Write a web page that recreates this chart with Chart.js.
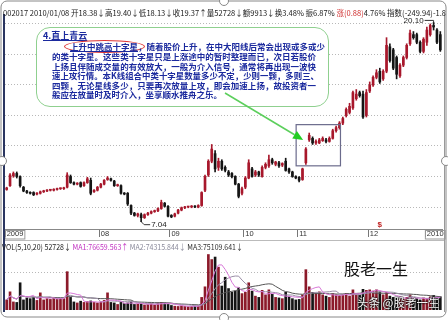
<!DOCTYPE html>
<html>
<head>
<meta charset="utf-8">
<script src="https://cdn.jsdelivr.net/npm/chart.js@4.4.0/dist/chart.umd.min.js"></script>
<style>
  body { margin: 0; background: #fff; }
  #wrap { position: relative; width: 448px; height: 320px; overflow: hidden; background: #fff;
          font-family: "Noto Sans CJK SC", sans-serif; }
  canvas { position: absolute; left: 0; }
  .abs { position: absolute; white-space: nowrap; transform-origin: left center; }
  .note { font-weight: bold; font-size: 8.5px; line-height: 10px; color: #1b2a9e; }
</style>
</head>
<body>
<div id="wrap">
  <canvas id="price" width="448" height="240" style="top:0;width:448px;height:240px"></canvas>
  <canvas id="vol" width="448" height="62" style="top:250px;width:448px;height:62px"></canvas>

  <div class="abs" style="left:3px;top:14px;width:2px;height:298px;background:#2a3560"></div>
  <div class="abs" style="left:444px;top:14px;width:1px;height:298px;background:#999"></div>
  <div class="abs" style="left:5px;top:240px;width:439px;height:1px;background:#bbb"></div>

  <div class="abs" data-w="443" style="left:3px;top:8px;font-size:8px;line-height:10px;color:#222">002017 2010/01/08 开18.38↓高19.40↓低18.13↓收19.37↑量52728↓额9913↓换3.48% 振6.87% <span style="color:#d03030">涨(0.88)</span>4.76% 指数(-249.94)-1.8</div>

  <div class="abs" data-w="241" style="left:2px;top:242px;font-size:8px;line-height:10px;color:#222">VOL(5,10,20) 52728↓ <span style="color:#c030c0">MA1:76659.563↑</span> <span style="color:#8c8c9c">MA2:74315.844↓</span> <span style="color:#303030">MA3:75109.641↓</span></div>

  <div class="abs" style="left:36px;top:27px;width:291px;height:78px;border:1.5px solid #8fd08f;border-radius:14px;background:#fff"></div>
  <div class="abs note" style="left:43px;top:31px;font-size:9px;text-decoration:underline">4.直上青云</div>
  <div class="abs" style="left:64px;top:40px;width:79px;height:11px;border:1px solid #d33;border-radius:50%"></div>
  <div class="abs note" data-w="255" style="left:70px;top:41px"><span style="text-decoration:underline">上升中跳高十字星</span>，随着股价上升，在中大阳线后常会出现或多或少</div>
  <div class="abs note" data-w="264" style="left:52px;top:51px">的类十字星。这些类十字星只是上涨途中的暂时整理而已，次日若股价</div>
  <div class="abs note" data-w="264" style="left:52px;top:60.5px">上扬且伴随成交量的有效放大，一般为介入信号，通常将再出现一波快</div>
  <div class="abs note" data-w="267" style="left:52px;top:70px">速上攻行情。本K线组合中类十字星数量多少不定，少则一颗，多则三、</div>
  <div class="abs note" data-w="264" style="left:52px;top:79.5px">四颗，无论星线多少，只要再次放量上攻，即会加速上扬，故投资者一</div>
  <div class="abs note" style="left:52px;top:89px">般应在放量时及时介入，坐享顺水推舟之乐。</div>

  <div class="abs" style="left:344px;top:258px;font-size:16px;line-height:20px;color:#111">股老一生</div>
  <div class="abs" style="left:357px;top:295px;font-size:11.5px;line-height:14px;color:#fff;text-shadow:0 0 1px #000,0 0 2px #000,0 0 2px #000">头条 @股老一生</div>

  <svg width="448" height="320" style="position:absolute;left:0;top:0;pointer-events:none">
    <line id="arrLine" stroke="#5ccf5c" stroke-width="1.5"/>
    <polygon id="arrHead" fill="#22cc22"/>
    <rect x="1" y="1" width="445" height="316" rx="6" fill="none" stroke="#888" stroke-width="1"/>
    <circle cx="2" cy="161" r="4.5" fill="#fff" stroke="#888"/>
    <circle cx="446" cy="161" r="4.5" fill="#fff" stroke="#888"/>
    <circle cx="224" cy="1" r="4.5" fill="#fff" stroke="#888"/>
    <circle cx="224" cy="318" r="4.5" fill="#fff" stroke="#888"/>
  </svg>
</div>

<script>
// daily candles, 2009-07 .. 2010-01-08
const openPrices = [9.15,9.4,10.05,10.2,10.0,9.3,9.05,8.95,8.95,8.85,
  8.9,9.0,9.05,9.1,9.1,9.15,9.2,9.2,9.3,10.0,
  9.6,9.5,9.6,9.4,9.6,9.75,9.0,9.1,9.3,9.5,
  9.8,9.85,9.7,9.4,9.4,8.9,8.9,8.1,7.6,7.45,
  7.5,7.3,7.5,7.6,7.7,7.75,7.9,8.25,8.05,7.45,
  7.4,7.6,7.8,7.95,8.0,8.0,8.05,8.0,8.1,9.1,
  10.1,11.0,11.5,10.6,11.0,10.6,10.3,10.2,10.0,9.5,
  8.9,9.3,9.9,10.5,10.1,10.3,10.0,10.6,10.7,11.1,
  10.8,10.9,10.75,11.0,10.5,10.3,10.0,9.95,9.8,10.9,
  12.4,12.5,12.2,12.2,12.35,12.4,12.3,12.5,13.0,13.2,
  13.5,14.0,14.2,14.5,15.1,15.5,15.4,14.0,15.6,16.0,
  16.5,16.9,16.4,16.9,18.5,18.3,17.8,16.6,17.3,17.8,
  18.7,19.3,19.3,18.8,18.2,18.8,19.3,19.9,19.6,19.3];

const closePrices = [9.25,10.1,10.2,10.0,9.4,9.05,8.95,8.9,8.8,8.9,
  9.0,9.05,9.1,9.1,9.15,9.2,9.2,9.25,10.1,9.6,
  9.5,9.55,9.35,9.6,9.85,8.9,9.1,9.3,9.5,9.75,
  9.9,9.75,9.4,9.45,8.9,8.85,8.2,7.6,7.45,7.55,
  7.3,7.5,7.6,7.7,7.75,7.9,8.3,8.05,7.4,7.35,
  7.55,7.8,7.95,8.0,8.0,8.05,8.0,8.1,8.95,10.0,
  11.0,11.8,10.5,11.0,10.5,10.4,10.1,10.0,9.5,8.7,
  9.2,9.9,10.9,10.0,10.3,10.1,10.6,10.8,11.1,10.9,
  10.95,10.7,10.85,10.4,10.3,10.0,9.9,9.75,10.5,11.8,
  12.7,12.2,12.3,12.4,12.5,12.3,12.5,13.0,13.2,13.5,
  13.8,14.4,14.6,15.5,15.4,15.3,13.9,15.5,16.0,16.5,
  16.8,16.2,16.9,18.6,17.6,17.1,16.7,17.3,17.8,18.6,
  19.4,19.1,18.8,18.2,19.0,19.6,19.9,19.8,18.8,18.3];

const highPrices = [9.3,10.2,10.3,10.3,10.05,9.35,9.1,9.0,9.0,8.95,
  9.05,9.1,9.15,9.15,9.2,9.25,9.25,9.3,10.25,10.1,
  9.65,9.6,9.65,9.65,9.95,9.9,9.15,9.35,9.55,9.8,
  10.0,9.9,9.75,9.5,9.45,8.95,8.95,8.15,7.65,7.6,
  7.6,7.55,7.65,7.75,7.8,7.95,8.45,8.3,8.1,7.5,
  7.6,7.85,8.0,8.05,8.05,8.1,8.1,8.15,9.0,10.1,
  11.1,12.1,11.7,11.2,11.1,10.7,10.4,10.25,10.05,9.55,
  9.3,10.0,11.1,10.6,10.4,10.35,10.7,10.9,11.4,11.2,
  11.0,11.0,10.9,11.2,10.55,10.35,10.05,10.0,10.55,11.9,
  12.85,12.6,12.4,12.5,12.6,12.5,12.6,13.1,13.3,13.6,
  13.9,14.5,14.8,15.6,15.7,15.6,15.6,15.7,16.2,16.6,
  17.0,17.1,17.0,19.1,18.7,18.4,17.9,17.4,17.9,18.7,
  19.6,19.5,19.4,18.9,19.1,19.8,20.0,20.1,19.7,19.5];

const lowPrices = [9.1,9.35,9.95,9.9,9.3,9.0,8.9,8.85,8.75,8.8,
  8.85,8.95,9.0,9.05,9.05,9.1,9.15,9.15,9.25,9.55,
  9.45,9.45,9.3,9.35,9.55,8.8,8.95,9.05,9.25,9.45,
  9.75,9.7,9.35,9.35,8.85,8.8,8.1,7.5,7.4,7.35,
  7.04,7.25,7.45,7.55,7.65,7.7,7.85,8.0,7.35,7.3,
  7.35,7.55,7.75,7.9,7.95,7.95,7.95,7.95,8.05,9.0,
  10.0,10.9,10.3,10.4,10.4,10.3,10.0,9.9,9.45,8.6,
  8.8,9.2,9.85,9.95,10.0,10.0,9.95,10.5,10.6,10.8,
  10.7,10.6,10.65,10.35,10.2,9.95,9.85,9.65,9.75,10.8,
  12.3,12.1,12.1,12.15,12.3,12.2,12.25,12.45,12.9,13.1,
  13.4,13.9,14.1,14.4,15.0,15.2,13.8,13.9,15.5,15.9,
  16.4,16.1,16.3,16.8,17.5,17.0,16.4,16.5,17.2,17.7,
  18.6,19.0,18.7,18.1,18.1,18.6,19.2,19.6,18.7,18.2];

const volumes = [40000,72000,32000,30000,108000,40000,48000,45000,50000,38000,
  68000,40000,45000,42000,48000,44000,46000,45000,152000,50000,
  32000,28000,35000,30000,33000,36000,30000,28000,32000,38000,
  68000,30000,28000,22000,30000,25000,28000,32000,22000,24000,
  26000,20000,22000,25000,20000,28000,30000,28000,26000,18000,
  15000,14000,16000,15000,13000,14000,15000,16000,50000,92000,
  220000,200000,210000,170000,95000,130000,85000,70000,75000,88000,
  65000,70000,108000,75000,55000,50000,78000,60000,80000,62000,
  50000,48000,45000,70000,55000,45000,40000,42000,60000,160000,
  92000,70000,65000,72000,60000,55000,50000,65000,60000,58000,
  62000,66000,55000,80000,60000,58000,82000,78000,80000,75000,
  80000,72000,60000,70000,55000,50000,48000,45000,42000,50000,
  60000,40000,45000,40000,48000,45000,52000,58000,45000,52728];

// month labels on the date axis
const tickIndex = [0, 28, 49, 71, 87, 108, 125];
const tickText = ['2009', '08', '09', '10', '11', '12', '2010'];
const priceGrid = [8, 10, 12, 14, 16, 18, 20];

const upColor = '#a8182c';
const downColor = '#151515';
const labels = openPrices.map((_, i) => i);
const isUp = openPrices.map((o, i) => closePrices[i] >= o);
const candleColors = isUp.map(u => u ? upColor : downColor);

function movingAvg(arr, n) {
  return arr.map((v, i) => {
    const part = arr.slice(Math.max(0, i - n + 1), i + 1);
    return part.reduce((a, b) => a + b, 0) / part.length;
  });
}

// box round the gap-up stars
function starBox(chart) {
  const xs = chart.scales.x, ys = chart.scales.y;
  return {
    l: xs.getPixelForValue(87) - 3,
    r: xs.getPixelForValue(99) + 1,
    t: ys.getPixelForValue(13.4),
    b: ys.getPixelForValue(10.7)
  };
}

const priceMarks = {
  id: 'priceMarks',
  afterDraw(chart) {
    const ctx = chart.ctx, xs = chart.scales.x, ys = chart.scales.y;
    ctx.save();
    const r = starBox(chart);
    ctx.strokeStyle = '#6b6b8c';
    ctx.lineWidth = 1.2;
    ctx.strokeRect(r.l, r.t, r.r - r.l, r.b - r.t);

    ctx.font = '8px "Liberation Sans"';
    ctx.fillStyle = '#222';
    ctx.strokeStyle = '#333';
    ctx.lineWidth = 1;
    ctx.textBaseline = 'middle';

    const hi = Math.max(...highPrices), hiIdx = highPrices.indexOf(hi);
    const hx = xs.getPixelForValue(hiIdx), hy = ys.getPixelForValue(hi);
    ctx.textAlign = 'right';
    ctx.fillText(hi.toFixed(2), hx - 10, hy - 2);
    ctx.beginPath();
    ctx.moveTo(hx - 9, hy - 2); ctx.lineTo(hx, hy - 2); ctx.lineTo(hx, hy);
    ctx.stroke();

    const lo = Math.min(...lowPrices), loIdx = lowPrices.indexOf(lo);
    const lx = xs.getPixelForValue(loIdx), ly = ys.getPixelForValue(lo);
    ctx.textAlign = 'left';
    ctx.fillText(lo.toFixed(2), lx + 10, ly + 3);
    ctx.beginPath();
    ctx.moveTo(lx, ly); ctx.lineTo(lx + 3, ly + 3); ctx.lineTo(lx + 9, ly + 3);
    ctx.stroke();

    // dividend mark
    ctx.fillStyle = '#c02020';
    ctx.font = 'bold 8px "Liberation Sans"';
    ctx.textAlign = 'center';
    ctx.fillText('$', xs.getPixelForValue(111), ys.bottom - 4);

    // boxes round first/last axis labels
    ctx.font = '7.5px "Liberation Sans"';
    ctx.strokeStyle = '#999';
    [0, tickIndex.length - 1].forEach(k => {
      const x = xs.getPixelForValue(tickIndex[k]);
      const w = ctx.measureText(tickText[k]).width;
      ctx.strokeRect(x - 1.5, ys.bottom + 1.5, w + 3, 8.5);
    });
    ctx.restore();
  }
};

const priceChart = new Chart(document.getElementById('price'), {
  type: 'bar',
  data: {
    labels: labels,
    datasets: [{
      data: lowPrices.map((l, i) => [l, highPrices[i]]),
      backgroundColor: candleColors,
      barThickness: 1,
      grouped: false,
      minBarLength: 1
    }, {
      data: openPrices.map((o, i) => [o, closePrices[i]]),
      backgroundColor: candleColors,
      barThickness: 2,
      grouped: false,
      minBarLength: 1
    }]
  },
  options: {
    responsive: false,
    animation: false,
    events: [],
    layout: { padding: { left: 5, right: 6, top: 16, bottom: 0 } },
    plugins: { legend: { display: false }, tooltip: { enabled: false } },
    scales: {
      x: {
        afterFit: s => { s.height = 11; },
        border: { display: true, color: '#888' },
        grid: {
          drawOnChartArea: false,
          tickLength: 8,
          color: c => tickIndex.includes(c.index) ? '#777' : 'rgba(0,0,0,0)'
        },
        ticks: {
          autoSkip: false,
          maxRotation: 0,
          align: 'start',
          padding: -8,
          color: '#333',
          font: { family: 'Liberation Sans', size: 7.5 },
          callback: (v, i) => {
            const k = tickIndex.indexOf(i);
            return k >= 0 ? tickText[k] : '';
          }
        }
      },
      y: {
        min: 6.56,
        max: 20.52,
        afterFit: s => { s.width = 0; },
        afterBuildTicks: s => { s.ticks = priceGrid.map(v => ({ value: v })); },
        border: { display: false, dash: [1, 2] },
        grid: { color: '#b8b8b8', drawTicks: false },
        ticks: { display: false }
      }
    }
  },
  plugins: [priceMarks]
});

new Chart(document.getElementById('vol'), {
  type: 'bar',
  data: {
    labels: labels,
    datasets: [{
      data: volumes,
      backgroundColor: isUp.map(u => u ? '#8c1a2a' : downColor),
      barThickness: 2,
      order: 2
    }, {
      type: 'line',
      data: movingAvg(volumes, 5),
      borderColor: '#d878d8',
      borderWidth: 1,
      pointRadius: 0,
      order: 1
    }, {
      type: 'line',
      data: movingAvg(volumes, 10),
      borderColor: '#9a8ea6',
      borderWidth: 1,
      pointRadius: 0,
      order: 1
    }, {
      type: 'line',
      data: movingAvg(volumes, 20),
      borderColor: '#555',
      borderWidth: 1,
      pointRadius: 0,
      order: 1
    }]
  },
  options: {
    responsive: false,
    animation: false,
    events: [],
    layout: { padding: { left: 5, right: 6, top: 2, bottom: 2 } },
    plugins: { legend: { display: false }, tooltip: { enabled: false } },
    scales: {
      x: { display: false },
      y: {
        min: 0,
        max: 230000,
        afterFit: s => { s.width = 0; },
        afterBuildTicks: s => { s.ticks = [{ value: 150000 }]; },
        border: { display: false, dash: [1, 2] },
        grid: { color: '#b8b8b8', drawTicks: false },
        ticks: { display: false }
      }
    }
  }
});

// arrow from the note to the star box
(function () {
  const r = starBox(priceChart);
  const ex = r.l + 7, ey = priceChart.scales.y.getPixelForValue(12.4);
  const sx = 225, sy = 93;
  const len = Math.hypot(ex - sx, ey - sy);
  const ux = (ex - sx) / len, uy = (ey - sy) / len;
  const bx = ex - ux * 10, by = ey - uy * 10;
  const line = document.getElementById('arrLine');
  line.setAttribute('x1', sx); line.setAttribute('y1', sy);
  line.setAttribute('x2', bx); line.setAttribute('y2', by);
  document.getElementById('arrHead').setAttribute('points',
    ex + ',' + ey + ' ' + (bx - uy * 4.5) + ',' + (by + ux * 4.5) + ' ' + (bx + uy * 4.5) + ',' + (by - ux * 4.5));
})();

function fitText() {
  document.querySelectorAll('[data-w]').forEach(el => {
    el.style.transform = 'none';
    const w = el.getBoundingClientRect().width;
    el.style.transform = 'scaleX(' + (+el.dataset.w / w) + ')';
  });
}
fitText();
document.fonts.ready.then(fitText);
</script>
</body>
</html>
